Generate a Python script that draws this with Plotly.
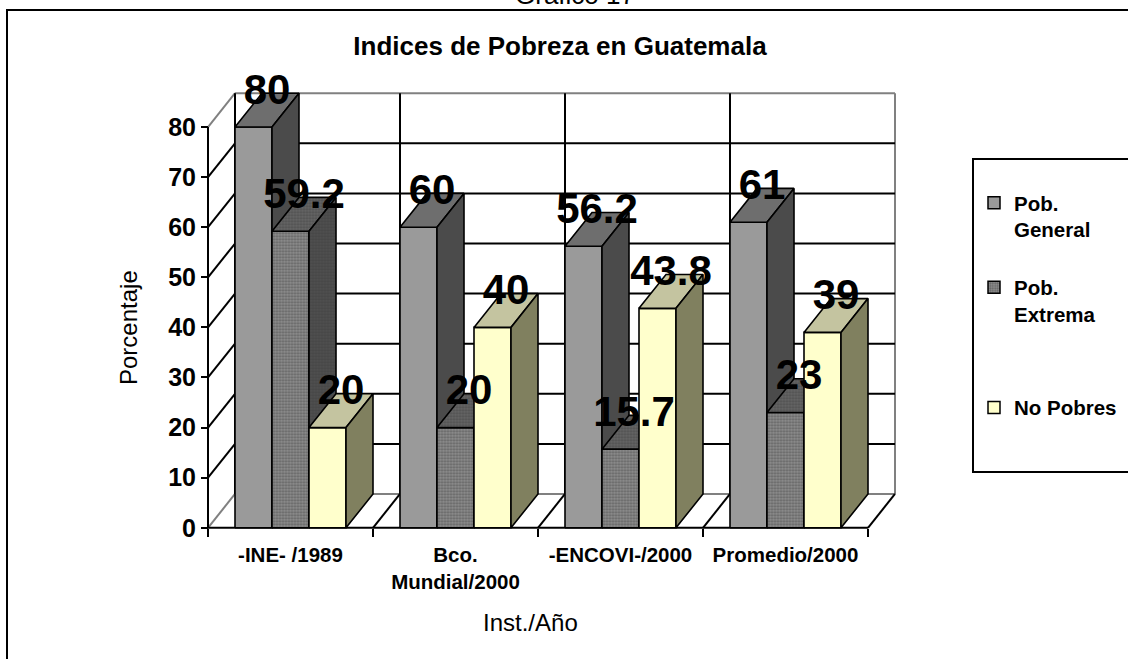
import plotly.graph_objects as go

# ---------------- data ----------------
categories = ["-INE- /1989", "Bco.<br>Mundial/2000", "-ENCOVI-/2000", "Promedio/2000"]
series_names = ["Pob.<br>General", "Pob.<br>Extrema", "No Pobres"]
pob_general = [80, 60, 56.2, 61]
pob_extrema = [59.2, 20, 15.7, 23]
no_pobres = [20, 40, 43.8, 39]
y_ticks = [0, 10, 20, 30, 40, 50, 60, 70, 80]

# ---------------- geometry / style ----------------
W, H = 1128, 659
X0_PX, GROUP_PX = 208, 165      # pixel of x=0, pixels per category
Y0_PX, UNIT_PX = 531, 5.04      # pixel of y=0, pixels per unit
DX = 27 / GROUP_PX              # 3D depth in x units
DY = 34 / UNIT_PX               # 3D depth in y units
BW = 37 / GROUP_PX              # bar width
GAP = DX
XR = [-0.1, 4.2]
YR = [-2, 92]
FONT = "Arial, 'Liberation Sans', sans-serif"


def py(p):
    return 1 - p / H


styles = [
    dict(front="#9a9a9a", top="#6e6e6e", side="#4b4b4b", pattern=None),
    dict(front="#8e8e8e", top="#666666", side="#505050",
         pattern=dict(shape=".", size=3, solidity=0.45)),
    dict(front="#ffffcc", top="#c4c4a0", side="#80805f", pattern=None),
]
series_vals = [pob_general, pob_extrema, no_pobres]
n = len(categories)
ymax = y_ticks[-1]

fig = go.Figure()


def seg_trace(segs, color, width):
    xs, ys = [], []
    for (a, b) in segs:
        xs += [a[0], b[0], None]
        ys += [a[1], b[1], None]
    fig.add_trace(go.Scatter(x=xs, y=ys, mode="lines", showlegend=False,
                             hoverinfo="skip", line=dict(color=color, width=width)))


# walls: back wall gridlines
black_segs, gray_segs = [], []
for t in y_ticks:
    seg_back = ((DX, t + DY), (n + DX, t + DY))
    seg_left = ((0, t), (DX, t + DY))
    if t in (y_ticks[0], ymax):
        gray_segs += [seg_back, seg_left]
    else:
        black_segs += [seg_back, seg_left]
for i in range(n + 1):
    seg = ((i + DX, DY), (i + DX, ymax + DY))
    if i < n:
        black_segs.append(seg)
    else:
        gray_segs.append(seg)
for i in range(1, n + 1):
    black_segs.append(((i, 0), (i + DX, DY)))
seg_trace(gray_segs, "#808080", 2)
seg_trace(black_segs, "#000000", 2)
# front axis lines
seg_trace([((0, 0), (0, ymax)), ((0, 0), (n, 0))], "#000000", 2)


def poly(pts, color, pattern):
    xs = [p[0] for p in pts] + [pts[0][0]]
    ys = [p[1] for p in pts] + [pts[0][1]]
    kw = {}
    if pattern:
        kw["fillpattern"] = dict(shape=pattern["shape"], size=pattern["size"],
                                 solidity=pattern["solidity"], fgcolor="#3a3a3a",
                                 bgcolor=color)
    fig.add_trace(go.Scatter(x=xs, y=ys, mode="lines", fill="toself",
                             fillcolor=color, line=dict(color="black", width=1.6),
                             showlegend=False, hoverinfo="skip", **kw))


lab_x, lab_y, lab_t = [], [], []
for i in range(n):
    for j, vals in enumerate(series_vals):
        v = vals[i]
        s = styles[j]
        x0 = i + GAP + j * BW
        x1 = x0 + BW
        poly([(x0, 0), (x1, 0), (x1, v), (x0, v)], s["front"], s["pattern"])
        poly([(x0, v), (x1, v), (x1 + DX, v + DY), (x0 + DX, v + DY)], s["top"], s["pattern"])
        poly([(x1, 0), (x1 + DX, DY), (x1 + DX, v + DY), (x1, v)], s["side"], s["pattern"])
        lab_x.append(x0 + BW / 2 + DX / 2)
        lab_y.append(v + DY)
        lab_t.append(f"{v:g}")

fig.add_trace(go.Scatter(x=lab_x, y=lab_y, text=lab_t, mode="text",
                         textposition="middle center", cliponaxis=False,
                         showlegend=False, hoverinfo="skip",
                         textfont=dict(family=FONT, size=42, color="black", weight="bold")))

# legend entries
legend_ids = ["legend", "legend2", "legend3"]
for j, name in enumerate(series_names):
    s = styles[j]
    marker = dict(color=s["front"], line=dict(color="black", width=1.5))
    if s["pattern"]:
        marker["pattern"] = dict(shape=".", size=3, solidity=0.45, fgcolor="#3a3a3a",
                                 bgcolor=s["front"], fillmode="overlay")
    fig.add_trace(go.Bar(x=[-5], y=[1], name="<b>" + name + "</b>", marker=marker,
                         legend=legend_ids[j], showlegend=True, hoverinfo="skip"))

leg_font = dict(family=FONT, size=20.5, color="black")
leg_common = dict(xanchor="left", yanchor="top", bgcolor="rgba(0,0,0,0)",
                  borderwidth=0, font=leg_font, valign="top")
leg_tops = [184, 269, 390]

layout_leg = {}
for j, lid in enumerate(legend_ids):
    layout_leg[lid] = dict(x=974 / W, y=py(leg_tops[j]), **leg_common)

fig.update_layout(
    width=W, height=H, autosize=False,
    margin=dict(l=0, r=0, t=0, b=0),
    paper_bgcolor="white", plot_bgcolor="white",
    font=dict(family=FONT, color="black"),
    title=dict(text="<b>Indices de Pobreza en Guatemala</b>", x=560 / W, y=py(46),
               xanchor="center", yanchor="middle", xref="paper", yref="paper",
               font=dict(family=FONT, size=26, color="black")),
    xaxis=dict(range=XR, domain=[(X0_PX + XR[0] * GROUP_PX) / W, (X0_PX + XR[1] * GROUP_PX) / W],
               anchor="free", position=py(Y0_PX),
               tickvals=[i + 0.5 for i in range(n)], ticktext=["<b>" + c + "</b>" for c in categories],
               ticks="outside", ticklen=9, tickcolor="rgba(0,0,0,0)",
               minor=dict(tickvals=list(range(n + 1)), ticks="outside", ticklen=8,
                          tickwidth=2, tickcolor="black", showgrid=False),
               tickfont=dict(family=FONT, size=20.5, color="black"),
               showgrid=False, zeroline=False, showline=False, fixedrange=True),
    yaxis=dict(range=YR, domain=[1 - (Y0_PX - YR[0] * UNIT_PX) / H, 1 - (Y0_PX - YR[1] * UNIT_PX) / H],
               anchor="free", position=X0_PX / W,
               tickvals=y_ticks, ticktext=[f"<b>{t}</b>" for t in y_ticks],
               ticks="outside", ticklen=7, tickwidth=2, tickcolor="black",
               tickfont=dict(family=FONT, size=25, color="black"),
               showgrid=False, zeroline=False, showline=False, fixedrange=True),
    showlegend=True,
    annotations=[
        dict(text="Gráfico 17", x=575 / W, y=py(12), xref="paper", yref="paper",
             xanchor="center", yanchor="bottom", showarrow=False,
             font=dict(family=FONT, size=26, color="black")),
        dict(text="Porcentaje", x=129 / W, y=py(330), xref="paper", yref="paper",
             textangle=-90, showarrow=False, xanchor="center", yanchor="middle",
             font=dict(family=FONT, size=24, color="black")),
        dict(text="Inst./Año", x=530 / W, y=py(626), xref="paper", yref="paper",
             showarrow=False, xanchor="center", yanchor="middle",
             font=dict(family=FONT, size=24, color="black")),
    ],
    shapes=[
        dict(type="rect", xref="paper", yref="paper", x0=7 / W, y0=py(10), x1=1.05, y1=-0.05,
             line=dict(color="black", width=2), fillcolor="rgba(0,0,0,0)"),
        dict(type="rect", xref="paper", yref="paper", x0=973 / W, y0=py(160), x1=1.05, y1=py(475),
             line=dict(color="black", width=2), fillcolor="rgba(0,0,0,0)"),
    ],
    **layout_leg,
)

fig.write_html("out.html", config={"displayModeBar": False},
               post_script="document.body.style.margin='0px';")
